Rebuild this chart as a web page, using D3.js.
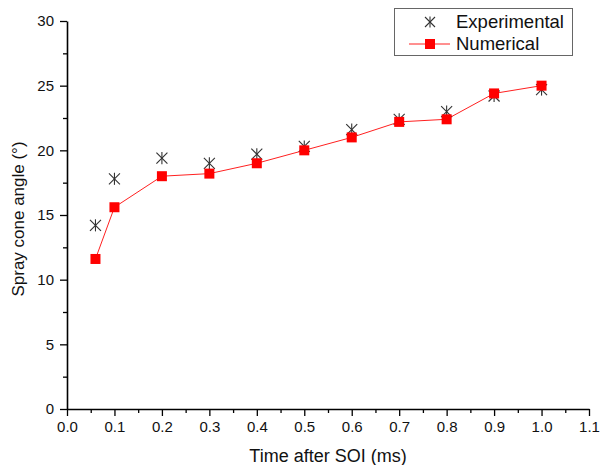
<!DOCTYPE html>
<html>
<head>
<meta charset="utf-8">
<script src="https://cdn.jsdelivr.net/npm/d3@7"></script>
<style>
  body { margin: 0; background: #fff; }
  svg { font-family: "Liberation Sans", Arial, sans-serif; }
</style>
</head>
<body>
<div class="container"></div>
<script>
let times = [0.06, 0.1, 0.2, 0.3, 0.4, 0.5, 0.6, 0.7, 0.8, 0.9, 1.0]
let experimental = [14.2, 17.8, 19.4, 19.0, 19.7, 20.3, 21.6, 22.4, 23.0, 24.2, 24.7]
let numerical = [11.6, 15.6, 18.0, 18.2, 19.0, 20.0, 21.0, 22.2, 22.4, 24.4, 25.0]
let xTicks = [0, 0.1, 0.2, 0.3, 0.4, 0.5, 0.6, 0.7, 0.8, 0.9, 1.0, 1.1]
let yTicks = [0, 5, 10, 15, 20, 25, 30]

let width = 600
let height = 465
let margin = { top: 21, left: 67, bottom: 56, right: 11 }

let svg = d3.select('.container')
    .append('svg')
    .attr('width', width)
    .attr('height', height)

let xScale = d3.scaleLinear()
    .domain([0, 1.1])
    .range([margin.left, width - margin.right])

let yScale = d3.scaleLinear()
    .domain([0, 30])
    .range([height - margin.bottom, margin.top])

// minor ticks
let xMinor = d3.range(0.05, 1.1, 0.1)
let yMinor = d3.range(2.5, 30, 5)

svg.append('g')
    .attr('transform', `translate(0,${height - margin.bottom})`)
    .call(d3.axisBottom(xScale).tickValues(xMinor).tickSize(4).tickFormat(''))
    .call(g => g.select('.domain').remove())
    .selectAll('line').attr('stroke-width', 1.3)

svg.append('g')
    .attr('transform', `translate(${margin.left},0)`)
    .call(d3.axisLeft(yScale).tickValues(yMinor).tickSize(4).tickFormat(''))
    .call(g => g.select('.domain').remove())
    .selectAll('line').attr('stroke-width', 1.3)

let xAxis = svg.append('g')
    .attr('transform', `translate(0,${height - margin.bottom})`)
    .call(d3.axisBottom(xScale).tickValues(xTicks).tickSize(7).tickSizeOuter(0).tickPadding(5)
        .tickFormat(d3.format('.1f')))
xAxis.select('.domain').attr('stroke-width', 1.6)
xAxis.selectAll('line').attr('stroke-width', 1.3)
xAxis.selectAll('text').attr('font-size', 15).attr('fill', '#111')
    .attr('font-family', '"Liberation Sans", Arial, sans-serif')

let yAxis = svg.append('g')
    .attr('transform', `translate(${margin.left},0)`)
    .call(d3.axisLeft(yScale).tickValues(yTicks).tickSize(7).tickSizeOuter(0).tickPadding(6))
yAxis.select('.domain').attr('stroke-width', 1.6)
yAxis.selectAll('line').attr('stroke-width', 1.3)
yAxis.selectAll('text').attr('font-size', 15).attr('fill', '#111')
    .attr('font-family', '"Liberation Sans", Arial, sans-serif')

// axis titles
svg.append('text')
    .attr('x', 328)
    .attr('y', 462)
    .attr('text-anchor', 'middle')
    .attr('font-size', 18)
    .attr('fill', '#111')
    .text('Time after SOI (ms)')

svg.append('text')
    .attr('transform', `translate(24,219) rotate(-90)`)
    .attr('text-anchor', 'middle')
    .attr('font-size', 17)
    .attr('fill', '#111')
    .text('Spray cone angle (°)')

// asterisk marker
function asterisk(g, cx, cy, r) {
    let arms = [[-r, -r, r, r], [-r, r, r, -r], [0, -r * 1.1, 0, r * 1.1]]
    arms.forEach(a => {
        g.append('line')
            .attr('x1', cx + a[0]).attr('y1', cy + a[1])
            .attr('x2', cx + a[2]).attr('y2', cy + a[3])
            .attr('stroke', '#333')
            .attr('stroke-width', 1.1)
    })
}

let line = d3.line()
    .x((d, i) => xScale(times[i]))
    .y(d => yScale(d))

svg.append('path')
    .datum(numerical)
    .attr('d', line)
    .attr('fill', 'none')
    .attr('stroke', '#ff2020')
    .attr('stroke-width', 1)

let expG = svg.append('g')
experimental.forEach((v, i) => asterisk(expG, xScale(times[i]), yScale(v), 5.5))

svg.selectAll('rect.num')
    .data(numerical)
    .enter()
    .append('rect')
    .attr('class', 'num')
    .attr('x', (d, i) => xScale(times[i]) - 5)
    .attr('y', d => yScale(d) - 5)
    .attr('width', 10)
    .attr('height', 10)
    .attr('fill', '#ff0000')

// legend
let legend = svg.append('g')
legend.append('rect')
    .attr('x', 394.5).attr('y', 8.5)
    .attr('width', 178).attr('height', 47)
    .attr('fill', '#fff')
    .attr('stroke', '#666')
    .attr('stroke-width', 1)
asterisk(legend, 430, 22, 5)
legend.append('line')
    .attr('x1', 409).attr('x2', 450)
    .attr('y1', 44).attr('y2', 44)
    .attr('stroke', '#ff2020')
legend.append('rect')
    .attr('x', 425).attr('y', 39)
    .attr('width', 10).attr('height', 10)
    .attr('fill', '#ff0000')
legend.append('text')
    .attr('x', 456).attr('y', 28)
    .attr('font-size', 18.5)
    .attr('fill', '#111')
    .text('Experimental')
legend.append('text')
    .attr('x', 456).attr('y', 50)
    .attr('font-size', 18.5)
    .attr('fill', '#111')
    .text('Numerical')
</script>
</body>
</html>
